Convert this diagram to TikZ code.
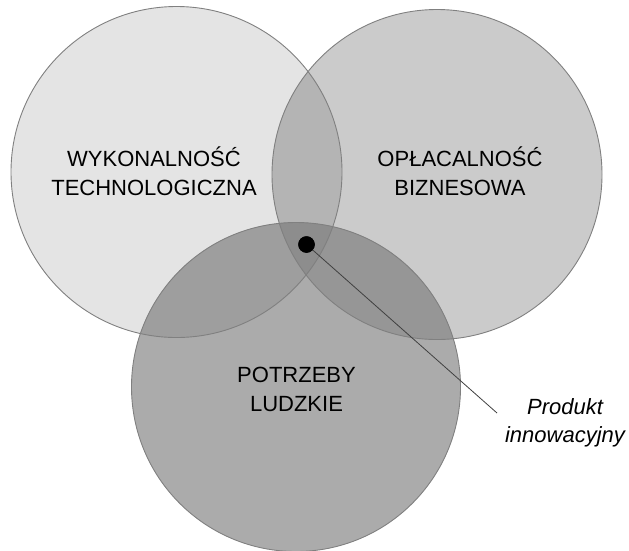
\documentclass[tikz,border=0pt]{standalone}
\usepackage{fontspec}
\setmainfont{Liberation Sans}
\definecolor{cA}{gray}{0.894}
\definecolor{cB}{gray}{0.796}
\definecolor{cC}{gray}{0.671}
\definecolor{cAB}{gray}{0.706}
\definecolor{cAC}{gray}{0.620}
\definecolor{cBC}{gray}{0.588}
\definecolor{cABC}{gray}{0.553}
\definecolor{edge}{gray}{0.50}
\tikzset{
  lbl/.style={font=\fontsize{22}{29}\selectfont, align=center, text=black},
  ilbl/.style={font=\fontsize{22}{28}\selectfont\itshape, align=center, text=black},
  ring/.style={draw=edge, line width=0.9pt},
}
\begin{document}
\begin{tikzpicture}[x=1pt,y=-1pt]
\useasboundingbox (0,0) rectangle (629,550);
\def\cA{(176.5,172) circle[radius=165.5]}
\def\cB{(437,174.5) circle[radius=165]}
\def\cC{(296,387) circle[radius=164.5]}
% single fills
\fill[cA] \cA;
\fill[cB] \cB;
\fill[cC] \cC;
% pairwise overlaps
\begin{scope}\clip \cA; \fill[cAB] \cB; \end{scope}
\begin{scope}\clip \cA; \fill[cAC] \cC; \end{scope}
\begin{scope}\clip \cB; \fill[cBC] \cC; \end{scope}
\begin{scope}\clip \cA; \clip \cB; \fill[cABC] \cC; \end{scope}
% outlines
\draw[ring] \cA;
\draw[ring] \cB;
\draw[ring] \cC;
% labels
\node[lbl] (tech) at (154,171) {WYKONALNOŚĆ\\TECHNOLOGICZNA};
\node[lbl] (biz) at (460,171) {OPŁACALNOŚĆ\\BIZNESOWA};
\node[lbl] (hum) at (296.5,389) {POTRZEBY\\LUDZKIE};
\node[ilbl] (prod) at (565,423) {Produkt\\innowacyjny};
% dot and pointer
\node[circle, fill=black, inner sep=0pt, minimum size=16.5pt] (dot) at (306.5,244.5) {};
\coordinate (tip) at (497,413);
\draw[black!75, line width=0.8pt] (dot.center) -- (tip);
\node[circle, fill=black, inner sep=0pt, minimum size=16.5pt] at (dot.center) {};
\end{tikzpicture}
\end{document}
